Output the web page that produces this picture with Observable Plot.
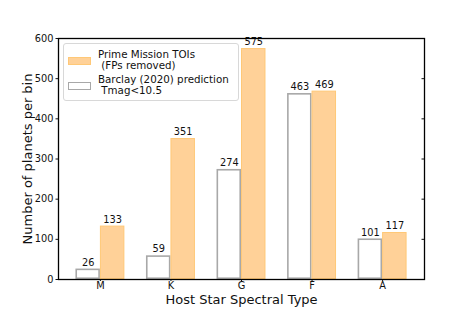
<!DOCTYPE html>
<html>
<head>
<meta charset="utf-8">
<script src="https://cdn.jsdelivr.net/npm/d3@7"></script>
<script src="https://cdn.jsdelivr.net/npm/@observablehq/plot@0.6"></script>
<style>
  body { margin: 0; background: #fff; font-family: "DejaVu Sans", sans-serif; }
  #wrap { position: relative; width: 471px; height: 314px; }
  #legend { position: absolute; left: 63px; top: 43px; width: 174px; height: 56px;
    border: 1px solid #d8d8d8; border-radius: 3px; background: rgba(255,255,255,0.85);
    font-size: 10.3px; color: #111; line-height: 11px; }
  .item { position: absolute; left: 4px; }
  .sw { position: absolute; left: 0; width: 21px; height: 6px; }
  .lbl { position: absolute; left: 30px; white-space: pre; }
</style>
</head>
<body>
<div id="wrap">
  <div id="chart"></div>
  <div id="legend">
    <div class="item" style="top:5px"><div class="sw" style="top:8px;background:#FFD198;border:1px solid #FFC877;"></div><div class="lbl">Prime Mission TOIs
 (FPs removed)</div></div>
    <div class="item" style="top:30px"><div class="sw" style="top:8px;background:#fff;border:1.5px solid #A8A8A8;"></div><div class="lbl">Barclay (2020) prediction
 Tmag&lt;10.5</div></div>
  </div>
</div>
<script>
const types = ["M", "K", "G", "F", "A"];
const toiCounts = [133, 351, 575, 469, 117];
const barclayCounts = [26, 59, 274, 463, 101];
const yTicks = [0, 100, 200, 300, 400, 500, 600];

const halfWidth = 0.347;
const rows = [];
types.forEach((t, i) => {
  rows.push({type: t, series: "Barclay", x1: i - halfWidth, x2: i, xc: i - halfWidth / 2, value: barclayCounts[i]});
  rows.push({type: t, series: "TOI", x1: i, x2: i + halfWidth, xc: i + halfWidth / 2, value: toiCounts[i]});
});

const font = "DejaVu Sans, sans-serif";
const chart = Plot.plot({
  width: 471,
  height: 314,
  marginLeft: 58,
  marginRight: 47,
  marginTop: 38,
  marginBottom: 35,
  style: {fontFamily: font, fontSize: "10px", color: "#111", background: "#fff"},
  x: {domain: [-0.594, 4.594], label: null},
  y: {domain: [0, 600], label: null},
  marks: [
    Plot.rectY(rows.filter(d => d.series === "Barclay"), {x1: "x1", x2: "x2", y: "value", fill: "#fff", stroke: "#A8A8A8", strokeWidth: 1.6, inset: 0.8}),
    Plot.rectY(rows.filter(d => d.series === "TOI"), {x1: "x1", x2: "x2", y: "value", fill: "#FFD198", stroke: "#FFC877", strokeWidth: 1, inset: 0.5}),
    Plot.text(rows, {x: "xc", y: "value", text: d => String(d.value), dy: -6.5, fontSize: 9.8, fill: "#111"}),
    Plot.axisY({ticks: yTicks, tickSize: 2.5, tickPadding: 2.5, tickFormat: d => d, fontSize: 9.8, label: null}),
    Plot.axisY({anchor: "right", ticks: yTicks, tickSize: 3.5, dx: -3.5, tickFormat: () => "", label: null}),
    Plot.axisX({ticks: [0, 1, 2, 3, 4], tickSize: 2, tickPadding: 1, tickFormat: i => types[i], fontSize: 9.8, label: null}),
    Plot.frame({stroke: "#000", strokeWidth: 1.3}),
    Plot.text(["Number of planets per bin"], {frameAnchor: "left", dx: -31, rotate: -90, textAnchor: "middle", fontSize: 13, fill: "#111"}),
    Plot.text(["Host Star Spectral Type"], {frameAnchor: "bottom", dy: 20, fontSize: 13, fill: "#111", textAnchor: "middle", lineAnchor: "middle"})
  ]
});
document.getElementById("chart").appendChild(chart);
</script>
</body>
</html>
